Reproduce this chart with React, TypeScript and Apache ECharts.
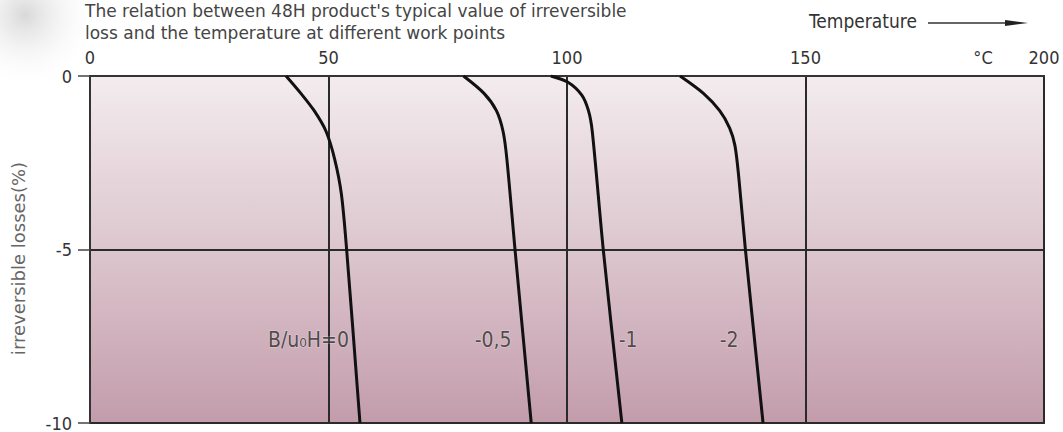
import React, { useEffect, useRef } from "react";
import * as echarts from "echarts";

// Temperature (°C) vs irreversible loss (%) for each working point B/μ0H
const curveNames = ["B/u₀H=0", "-0,5", "-1", "-2"];
const curve0: [number, number][] = [
  [41.1, 0], [44.2, -0.5], [47.0, -1.0], [49.5, -1.6], [51.3, -2.4], [52.7, -3.4], [53.8, -5.0], [56.6, -10],
];
const curve05: [number, number][] = [
  [78.3, 0], [82.6, -0.5], [85.2, -1.0], [86.6, -1.6], [87.4, -2.4], [89.1, -5.0], [92.5, -10],
];
const curve1: [number, number][] = [
  [96.6, 0], [100.2, -0.18], [103.1, -0.55], [104.5, -1.0], [105.3, -1.6], [107.6, -5.0], [111.5, -10],
];
const curve2: [number, number][] = [
  [123.7, 0], [128.6, -0.5], [132.0, -1.0], [134.1, -1.5], [135.2, -2.0], [136.0, -2.9], [137.4, -5.0], [141.1, -10],
];
// label anchor positions (data coords) for curve labels
const labelPos: [number, number][] = [
  [45.8, -7.6], [84.5, -7.6], [112.8, -7.6], [134.0, -7.6],
];
const xTicks = [0, 50, 100, 150, 200];
const yTicks = [0, -5, -10];
const titleLines = [
  "The relation between 48H product's typical value of irreversible",
  "loss and the temperature at different work points",
];
const yName = "irreversible losses(%)";
const xName = "Temperature";
const unitName = "°C";

const techFont = "'DejaVu Sans Condensed', 'Liberation Sans Narrow', 'DejaVu Sans', sans-serif";

export default function App() {
  const ref = useRef<HTMLDivElement>(null);
  useEffect(() => {
    document.body.style.margin = "0";
    const chart = echarts.init(ref.current!, undefined, { renderer: "svg" });
    const curves = [curve0, curve05, curve1, curve2];
    const lineSeries = curves.map((c, i) => ({
      name: curveNames[i],
      type: "line",
      data: c,
      smooth: 0.3,
      symbol: "none",
      lineStyle: { color: "#111", width: 3 },
      z: 3,
    }));
    const labelSeries = {
      type: "scatter",
      data: labelPos.map((p, i) => ({ value: p, name: curveNames[i] })),
      symbolSize: 0,
      silent: true,
      z: 4,
      label: {
        show: true,
        position: "inside",
        formatter: (p: any) => p.name,
        fontFamily: techFont,
        fontSize: 21,
        color: "#2b2b2b",
        textBorderColor: "rgba(255,255,255,0.35)",
        textBorderWidth: 1.5,
      },
    };
    chart.setOption({
      animation: false,
      backgroundColor: "#fff",
      grid: {
        left: 90,
        right: 19,
        top: 76,
        bottom: 9,
        show: true,
        borderColor: "#333",
        borderWidth: 2,
        backgroundColor: new echarts.graphic.LinearGradient(0, 0, 0, 1, [
          { offset: 0, color: "#f3ecef" },
          { offset: 0.5, color: "#dcc6ce" },
          { offset: 1, color: "#c39cab" },
        ]),
      },
      xAxis: {
        type: "value",
        position: "top",
        min: xTicks[0],
        max: xTicks[xTicks.length - 1],
        interval: 50,
        axisLine: { show: true, lineStyle: { color: "#333", width: 2 } },
        axisTick: { show: false },
        axisLabel: {
          margin: 10,
          fontFamily: techFont,
          fontSize: 18,
          color: "#333",
        },
        splitLine: { show: true, lineStyle: { color: "#2a2a2a", width: 2 } },
      },
      yAxis: {
        type: "value",
        min: yTicks[2],
        max: yTicks[0],
        interval: 5,
        name: yName,
        nameLocation: "middle",
        nameGap: 63,
        nameTextStyle: {
          fontFamily: "'DejaVu Sans', sans-serif",
          fontSize: 18,
          color: "#666",
          padding: [0, 18, 0, 0],
        },
        axisLine: { show: true, lineStyle: { color: "#333", width: 2 } },
        axisTick: { show: true, length: 12, lineStyle: { color: "#444", width: 1.5 } },
        axisLabel: {
          margin: 18,
          fontFamily: techFont,
          fontSize: 18,
          color: "#333",
        },
        splitLine: { show: true, lineStyle: { color: "#2a2a2a", width: 2 } },
      },
      graphic: [
        {
          type: "circle",
          shape: { cx: 25, cy: 15, r: 75 },
          style: {
            fill: new echarts.graphic.RadialGradient(0.5, 0.5, 0.5, [
              { offset: 0, color: "rgba(200,200,200,0.7)" },
              { offset: 1, color: "rgba(255,255,255,0)" },
            ]),
          },
          silent: true,
          z: 0,
        },
        {
          type: "text",
          x: 85,
          y: 0,
          style: {
            text: titleLines.join("\n"),
            font: "17px 'DejaVu Sans', sans-serif",
            fill: "#444",
            lineHeight: 22,
          },
        },
        {
          type: "text",
          x: 809,
          y: 11,
          style: {
            text: xName,
            font: `19px ${techFont}`,
            fill: "#333",
          },
        },
        {
          type: "line",
          shape: { x1: 928, y1: 23, x2: 1010, y2: 23 },
          style: { stroke: "#333", lineWidth: 1.5 },
        },
        {
          type: "polygon",
          shape: { points: [[1005, 20], [1028, 23], [1005, 26]] },
          style: { fill: "#222" },
        },
        {
          type: "text",
          x: 983,
          y: 57,
          style: {
            text: unitName,
            font: `18px ${techFont}`,
            fill: "#333",
            align: "center",
            verticalAlign: "middle",
          },
        },
      ],
      series: [...lineSeries, labelSeries],
    });
    return () => chart.dispose();
  }, []);
  return <div ref={ref} style={{ width: 1063, height: 432 }} />;
}
